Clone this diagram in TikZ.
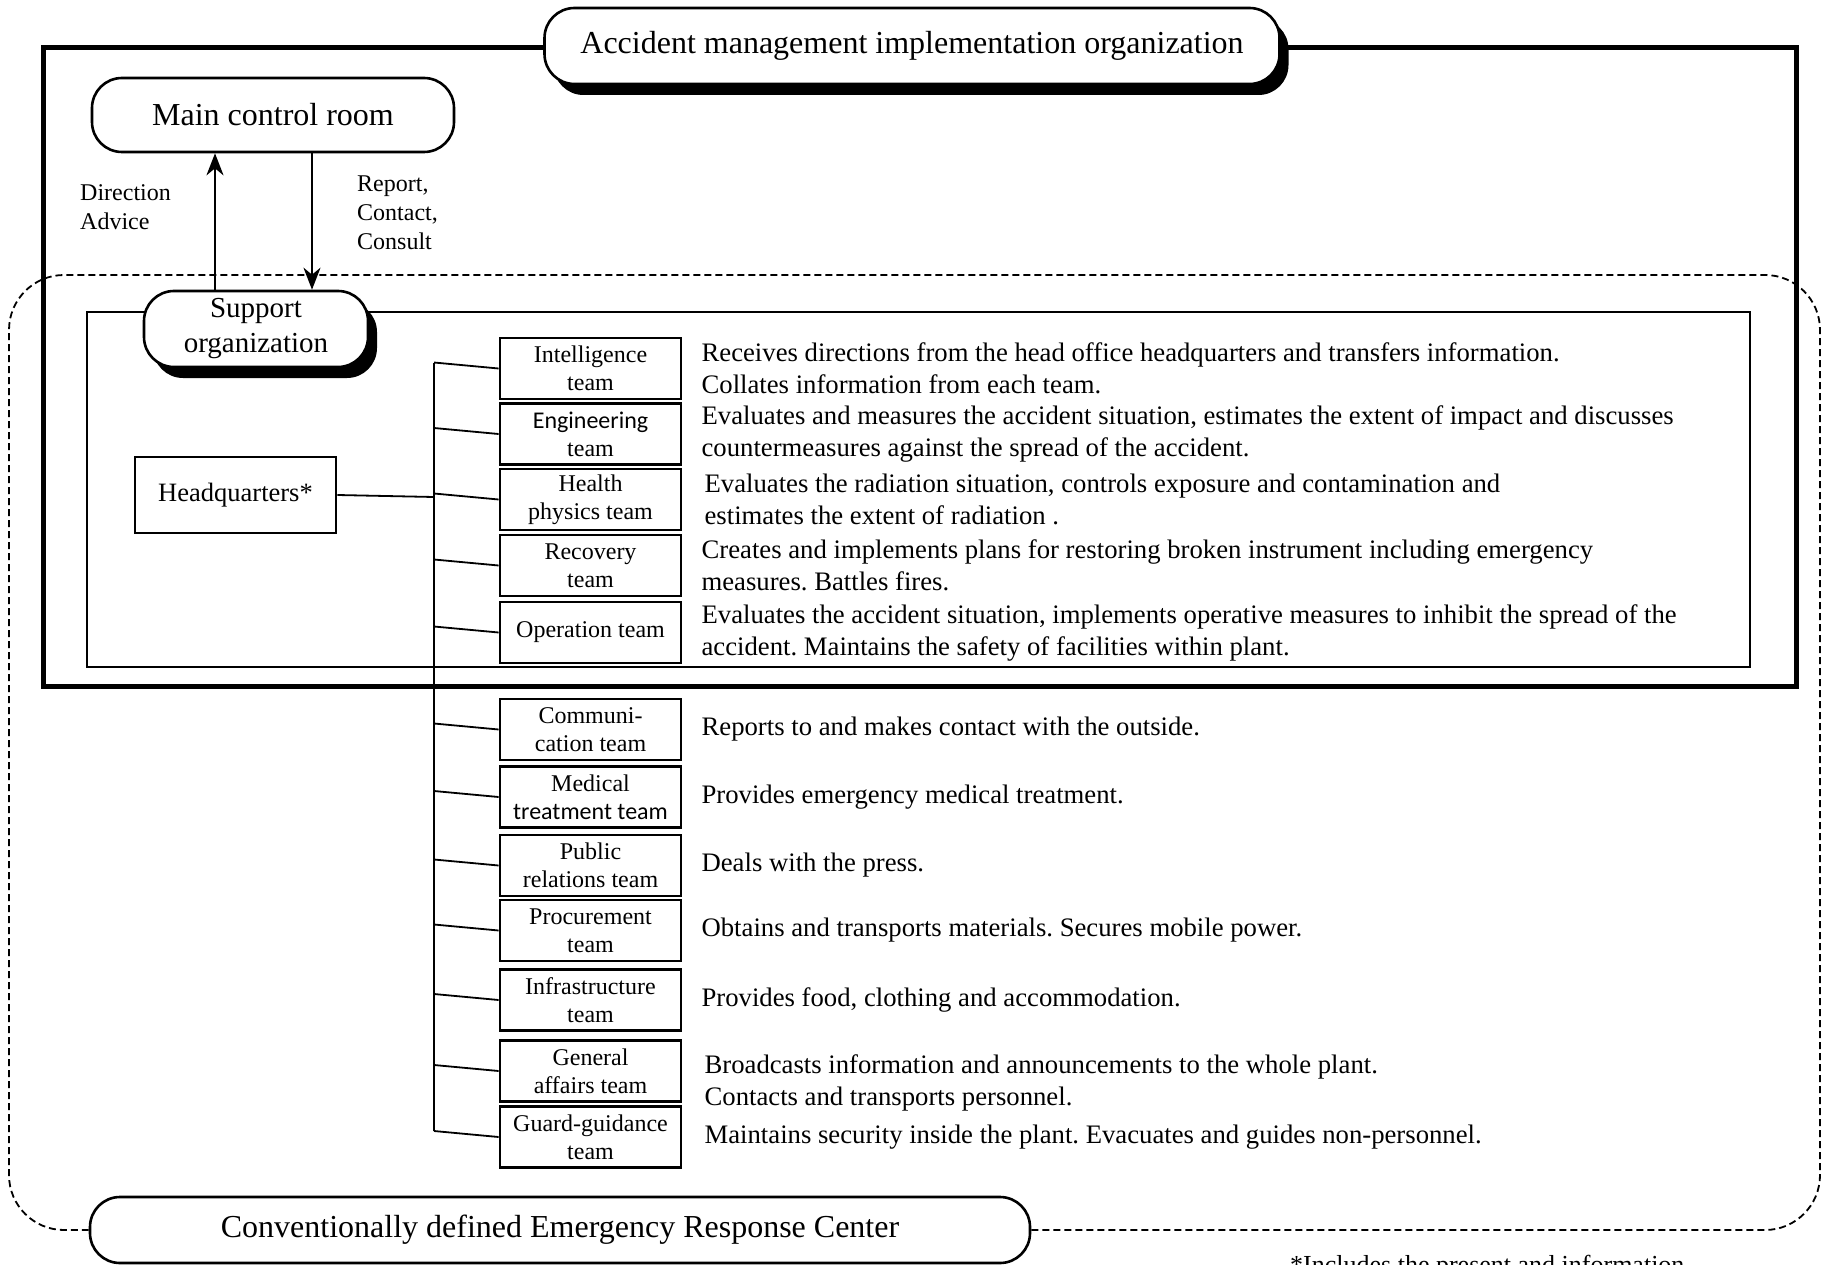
\documentclass[tikz,border=0pt]{standalone}
\usepackage{fontspec}
\setmainfont{Liberation Serif}
\newfontfamily\calfont{Carlito}
\frenchspacing
\usetikzlibrary{arrows.meta,positioning,shadows}
\tikzset{roundbox/.style={draw,line width=2.6pt,rounded corners=30pt,fill=white,align=center,inner sep=0pt},
  shadowbox/.style={roundbox,drop shadow={shadow xshift=9pt,shadow yshift=-11pt,fill=black,opacity=1}},
  team/.style={draw,line width=2.8pt,minimum width=181pt,minimum height=61pt,inner sep=0pt,align=center,font=\fontsize{24}{28}\selectfont},
  desc/.style={align=left,inner sep=0pt,font=\fontsize{26.7}{32}\selectfont},
  lbl/.style={align=left,inner sep=0pt,font=\fontsize{24}{29}\selectfont},
  link/.style={line width=1.8pt},
  arr/.style={-{Stealth[length=22pt,width=17pt,inset=7pt]},line width=2.4pt}}

\begin{document}
\begin{tikzpicture}[x=1pt,y=-1pt]
\useasboundingbox (0,0) rectangle (1825,1265);
% frames
\draw[line width=5pt] (43,48) rectangle (1796,686);
\draw[line width=2.2pt] (87,312) rectangle (1750,667);
\node[roundbox,minimum width=940pt,minimum height=66pt,font=\fontsize{32}{38}\selectfont] (erc) at (560,1230) {Conventionally defined Emergency Response Center};
\draw[line width=1.8pt,dash pattern=on 7pt off 4pt,rounded corners=55pt] (erc.east) -- (1820,1230) -- (1820,275) -- (9,275) -- (9,1230) -- (erc.west);
% top part
\node[shadowbox,minimum width=735pt,minimum height=76pt,font=\fontsize{32}{38}\selectfont] (amio) at (912,46) {Accident management implementation organization};
\node[roundbox,minimum width=362pt,minimum height=74pt,font=\fontsize{32}{38}\selectfont] (mcr) at (273,115) {Main control room};
\node[shadowbox,minimum width=224pt,minimum height=76pt,font=\fontsize{29}{35}\selectfont] (sup) at (256,329) {Support\\organization};
\draw[arr] ([xshift=-41pt]sup.north) -- ([xshift=-41pt]sup.north |- mcr.south);
\draw[arr] ([xshift=56pt]sup.north |- mcr.south) -- ([xshift=56pt]sup.north);
\node[lbl,anchor=west] (dir) at (80,207) {Direction\\Advice};
\node[lbl,anchor=west] (rep) at (357,213) {Report,\\Contact,\\Consult};
% headquarters and teams
\node[draw,line width=2.8pt,minimum width=201pt,minimum height=76pt,font=\fontsize{26.5}{32}\selectfont] (hq) at (235.5,495) {Headquarters*};
\coordinate (bus) at (434,0);
\node[team] (intel) at (590.5,368.5) {Intelligence\\team};
\node[team] (eng) at (590.5,434) {{\calfont Engineering}\\team};
\node[team] (hp) at (590.5,499.5) {Health\\physics team};
\node[team] (rec) at (590.5,565.5) {Recovery\\team};
\node[team] (op) at (590.5,632.5) {Operation team};
\node[team] (comm) at (590.5,729.5) {Communi-\\cation team};
\node[team] (med) at (590.5,797) {Medical\\{\calfont treatment team}};
\node[team] (pr) at (590.5,865.5) {Public\\relations team};
\node[team] (proc) at (590.5,930.5) {Procurement\\team};
\node[team] (infra) at (590.5,1000) {Infrastructure\\team};
\node[team] (ga) at (590.5,1071) {General\\affairs team};
\node[team] (guard) at (590.5,1137) {Guard-guidance\\team};
\foreach \t in {intel,eng,hp,rec,op,comm,med,pr,proc,infra,ga,guard}
  \draw[link] ([yshift=6pt]bus |- \t.west) -- (\t.west);
\draw[link] ([yshift=6pt]bus |- intel.west) -- ([yshift=6pt]bus |- guard.west);
\draw[link] (hq.east) -- ([yshift=-2pt]bus |- hq.east);
% what each team does
\node[desc,right=19pt of intel] (intel-d) {Receives directions from the head office headquarters and transfers information.\\Collates information from each team.};
\node[desc,right=19pt of eng] (eng-d) {Evaluates and measures the accident situation, estimates the extent of impact and discusses\\countermeasures against the spread of the accident.};
\node[desc,right=22pt of hp] (hp-d) {Evaluates the radiation situation, controls exposure and contamination and\\estimates the extent of radiation .};
\node[desc,right=19pt of rec] (rec-d) {Creates and implements plans for restoring broken instrument including emergency\\measures. Battles fires.};
\node[desc,right=19pt of op] (op-d) {Evaluates the accident situation, implements operative measures to inhibit the spread of the\\accident. Maintains the safety of facilities within plant.};
\node[desc,right=19pt of comm] (comm-d) {Reports to and makes contact with the outside.};
\node[desc,right=19pt of med] (med-d) {Provides emergency medical treatment.};
\node[desc,right=19pt of pr] (pr-d) {Deals with the press.};
\node[desc,right=19pt of proc] (proc-d) {Obtains and transports materials. Secures mobile power.};
\node[desc,right=19pt of infra] (infra-d) {Provides food, clothing and accommodation.};
\node[desc,right=22pt of ga,yshift=-12pt] (ga-d) {Broadcasts information and announcements to the whole plant.\\Contacts and transports personnel.};
\node[desc,right=22pt of guard] (guard-d) {Maintains security inside the plant. Evacuates and guides non-personnel.};
\node[anchor=base west,inner sep=0pt,font=\fontsize{26}{32}\selectfont] (note) at (1290,1273) {*Includes the present and information};
\end{tikzpicture}
\end{document}
